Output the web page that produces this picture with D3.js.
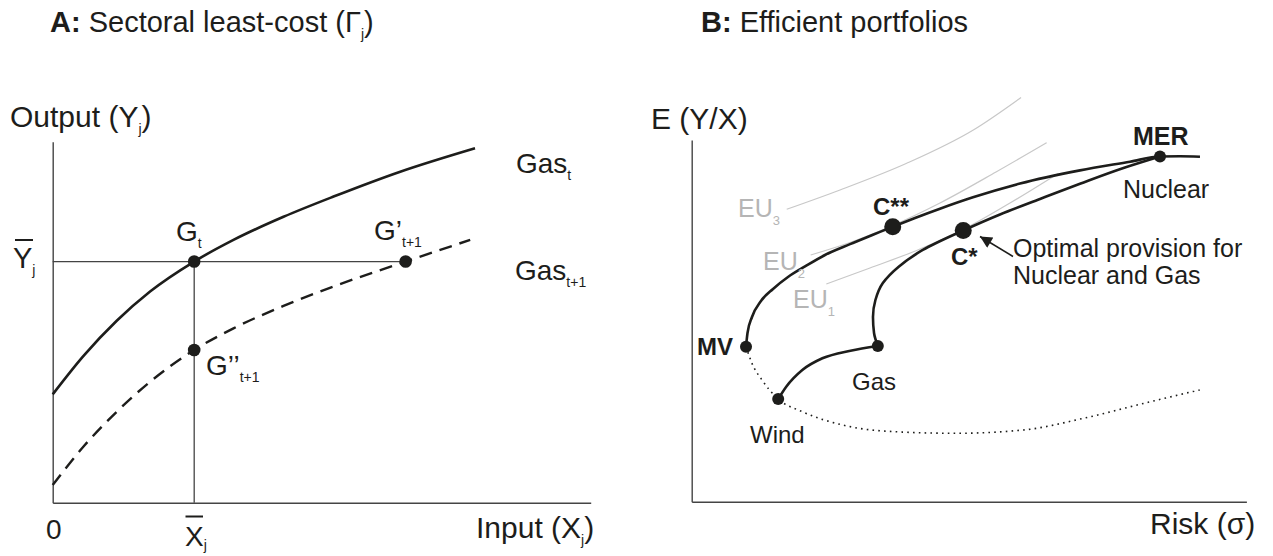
<!DOCTYPE html>
<html><head><meta charset="utf-8">
<script src="https://cdn.jsdelivr.net/npm/d3@7"></script>
<style>html,body{margin:0;padding:0;background:#fff;} svg{display:block}</style>
</head><body><svg id="c" width="1273" height="556"></svg>
<script>
// ================= DATA =================
// Panel A (units 0-100 on both axes)
const gasT  = [[0,30.0],[5.69,40.6],[11.9,50.4],[18.1,58.5],[26.3,66.8],[33.6,72.8],[42.9,79.2],[52.2,84.8],[64.6,91.7],[78.5,98.2]];
const gasT1 = [[0,4.9],[5.69,15.5],[11.9,25.2],[18.1,33.5],[26.3,42.3],[33.6,48.3],[42.9,54.5],[52.2,59.9],[65.6,66.8],[77.6,72.8]];
const xBar = 26.3, yBar = 66.8;
const gPointsX = [26.3, 65.6, 26.3];   // G_t, G'_t+1, G''_t+1
const gPointsY = [66.8, 66.8, 42.3];

// Panel B (risk 0-100, expected return 0-100)
const upperFrontier = [[9.79,42.85],[10.06,46.64],[10.87,51.06],[12.49,55.49],[14.66,58.81],[17.36,62.12],[20.43,65.03],[24.03,68.21],[28.54,71.2],[32.68,73.8],[36.24,76.03],[40.26,78.44],[44.76,81.0],[50.71,84.15],[59.19,87.97],[70.0,91.6],[79.02,94.0],[84.42,95.44],[88.03,95.49],[91.63,95.36]];
const lowerFrontier = [[33.55,43.05],[32.87,46.64],[32.68,51.06],[33.12,55.76],[34.43,60.38],[37.32,64.97],[41.66,69.59],[48.95,74.98],[55.58,79.40],[62.79,83.69],[70.0,87.9],[78.11,92.4],[84.42,95.44]];
const windGas = [[15.59,28.39],[17.04,31.79],[19.94,36.41],[23.56,39.65],[28.63,41.75],[33.55,43.05]];
const inefficient = [[9.79,42.85],[10.87,38.26],[12.67,33.65],[15.59,28.39],[19.94,24.88],[27.19,21.21],[34.43,19.55],[47.47,18.91],[59.78,19.82],[70.65,23.06],[81.52,27.20],[92.03,31.08]];
const eu3 = [[17.13,80.84],[26.74,86.18],[38.76,93.56],[50.77,102.77],[59.37,111.75]];
const eu2 = [[21.45,68.21],[28.54,71.66],[36.24,76.36],[44.76,82.58],[54.86,91.15],[64.0,99.25]];
const eu1 = [[24.27,60.19],[32.14,64.61],[41.16,69.86],[48.95,75.26],[57.38,82.58],[66.09,90.79]];
const smallPointsX = [9.79, 33.55, 15.59, 84.42];   // MV, Gas, Wind, MER
const smallPointsY = [42.85, 43.05, 28.39, 95.44];
const bigPointsX = [36.24, 48.95];                  // C**, C*
const bigPointsY = [76.03, 74.98];

// ================= DRAW =================
const FONT = "'Liberation Sans', Arial, Helvetica, sans-serif";
const INK = "#1d1d1b";
const svg = d3.select("#c").style("font-family", FONT);

const xA = d3.scaleLinear([0,100],[52.7,590.7]);
const yA = d3.scaleLinear([0,100],[502.7,141.7]);
const xB = d3.scaleLinear([0,100],[691.7,1246.4]);
const yB = d3.scaleLinear([0,100],[501.7,140]);

function rich(x, y, parts, size, color, subSize, subDy){
  const t = svg.append("text").attr("x", x).attr("y", y)
    .attr("font-size", size).attr("fill", color || INK);
  let shifted = 0;
  parts.forEach(p => {
    const ts = t.append("tspan").text(p[0]);
    const kind = p[1] || "";
    if (kind.includes("b")) ts.attr("font-weight", "bold");
    if (kind.includes("s")) {
      ts.attr("font-size", subSize || 14);
      if (!shifted) { ts.attr("dy", subDy || 7); shifted = subDy || 7; }
    } else if (shifted) { ts.attr("dy", -shifted); shifted = 0; }
  });
  return t;
}

// Axes
const axA = svg.append("g");
axA.append("g").attr("transform", `translate(0,${yA(0)})`).call(d3.axisBottom(xA).tickValues([]).tickSizeOuter(0));
axA.append("g").attr("transform", `translate(${xA(0)},0)`).call(d3.axisLeft(yA).tickValues([]).tickSizeOuter(0));
const axB = svg.append("g");
axB.append("g").attr("transform", `translate(0,${yB(0)})`).call(d3.axisBottom(xB).tickValues([]).tickSizeOuter(0));
axB.append("g").attr("transform", `translate(${xB(0)},0)`).call(d3.axisLeft(yB).tickValues([]).tickSizeOuter(0));
svg.selectAll(".domain").attr("stroke", "#444").attr("stroke-width", 1.4);

// ---- Panel A ----
const lineA = d3.line().x(d => xA(d[0])).y(d => yA(d[1])).curve(d3.curveMonotoneX);
svg.append("line").attr("x1", xA(0)).attr("x2", xA(gPointsX[1])).attr("y1", yA(yBar)).attr("y2", yA(yBar))
  .attr("stroke", "#444").attr("stroke-width", 1.3);
svg.append("line").attr("x1", xA(xBar)).attr("x2", xA(xBar)).attr("y1", yA(yBar)).attr("y2", yA(0))
  .attr("stroke", "#444").attr("stroke-width", 1.3);
svg.append("path").attr("d", lineA(gasT)).attr("fill", "none").attr("stroke", INK).attr("stroke-width", 2.6);
svg.append("path").attr("d", lineA(gasT1)).attr("fill", "none").attr("stroke", INK).attr("stroke-width", 2.4)
  .attr("stroke-dasharray", "13,8");
svg.selectAll(".gp").data(gPointsX).enter().append("circle")
  .attr("cx", d => xA(d)).attr("cy", (d,i) => yA(gPointsY[i])).attr("r", 6.3).attr("fill", INK);

// Panel A texts
rich(50, 32, [["A:", "b"], [" Sectoral least-cost (Γ"], ["j", "s"], [")"]], 29, INK, 14, 7);
rich(10, 127, [["Output (Y"], ["j", "s"], [")"]], 30, INK, 14, 7);
rich(13, 268, [["Y"], ["j", "s"]], 29, INK, 14, 7);
svg.append("line").attr("x1", 15).attr("x2", 33).attr("y1", 240).attr("y2", 240).attr("stroke", INK).attr("stroke-width", 2);
rich(46, 539, [["0"]], 28);
rich(185, 546, [["X"], ["j", "s"]], 28, INK, 14, 4);
svg.append("line").attr("x1", 185.5).attr("x2", 203).attr("y1", 516.5).attr("y2", 516.5).attr("stroke", INK).attr("stroke-width", 2);
rich(476, 538, [["Input (X"], ["j", "s"], [")"]], 30, INK, 14, 7);
rich(176, 241, [["G"], ["t", "s"]], 28, INK, 14, 7);
rich(374, 240, [["G’"], ["t+1", "s"]], 28, INK, 14, 7);
rich(206, 375, [["G’’"], ["t+1", "s"]], 28, INK, 14, 7);
rich(516, 173, [["Gas"], ["t", "s"]], 28, INK, 14, 7);
rich(515, 280, [["Gas"], ["t+1", "s"]], 28, INK, 14, 7);

// ---- Panel B ----
const lineBx = d3.line().x(d => xB(d[0])).y(d => yB(d[1])).curve(d3.curveMonotoneX);
const lineBy = d3.line().x(d => xB(d[0])).y(d => yB(d[1])).curve(d3.curveMonotoneY);
[eu3, eu2, eu1].forEach(c => svg.append("path").attr("d", lineBx(c)).attr("fill", "none")
  .attr("stroke", "#c8c8c8").attr("stroke-width", 1.2));
svg.append("path").attr("d", lineBx(inefficient)).attr("fill", "none").attr("stroke", INK)
  .attr("stroke-width", 1.6).attr("stroke-dasharray", "1.6,4.2");
svg.append("path").attr("d", lineBx(upperFrontier)).attr("fill", "none").attr("stroke", INK).attr("stroke-width", 2.6);
svg.append("path").attr("d", lineBy(lowerFrontier)).attr("fill", "none").attr("stroke", INK).attr("stroke-width", 2.6);
svg.append("path").attr("d", lineBx(windGas)).attr("fill", "none").attr("stroke", INK).attr("stroke-width", 2.6);
svg.selectAll(".sp").data(smallPointsX).enter().append("circle")
  .attr("cx", d => xB(d)).attr("cy", (d,i) => yB(smallPointsY[i])).attr("r", 6).attr("fill", INK);
svg.selectAll(".bp").data(bigPointsX).enter().append("circle")
  .attr("cx", d => xB(d)).attr("cy", (d,i) => yB(bigPointsY[i])).attr("r", 8.5).attr("fill", INK);

// arrow
svg.append("defs").append("marker").attr("id", "ah").attr("viewBox", "0 0 10 10").attr("refX", 10).attr("refY", 5)
  .attr("markerWidth", 16).attr("markerHeight", 12).attr("markerUnits", "userSpaceOnUse").attr("orient", "auto")
  .append("path").attr("d", "M0,0L10,5L0,10z").attr("fill", INK);
svg.append("line").attr("x1", 1013).attr("y1", 256.5).attr("x2", 980).attr("y2", 236.5)
  .attr("stroke", INK).attr("stroke-width", 1.5).attr("marker-end", "url(#ah)");

// Panel B texts
rich(701, 32, [["B:", "b"], [" Efficient portfolios"]], 29);
rich(651, 129, [["E (Y/X)"]], 30);
rich(1150, 534, [["Risk (σ)"]], 30);
rich(1133, 145, [["MER", "b"]], 25);
rich(1123, 198, [["Nuclear"]], 25);
rich(873, 215, [["C**", "b"]], 24);
rich(951, 265, [["C*", "b"]], 24);
rich(1013, 257, [["Optimal provision for"]], 25);
rich(1013, 284, [["Nuclear and Gas"]], 25);
rich(697, 355, [["MV", "b"]], 24);
rich(852, 390, [["Gas"]], 24);
rich(750, 443, [["Wind"]], 24);
const EUC = "#b5b5b5";
rich(738, 217, [["EU"], ["3", "s"]], 25, EUC, 13, 8);
rich(763, 270, [["EU"], ["2", "s"]], 25, EUC, 13, 8);
rich(793, 308, [["EU"], ["1", "s"]], 25, EUC, 13, 8);
</script></body></html>
